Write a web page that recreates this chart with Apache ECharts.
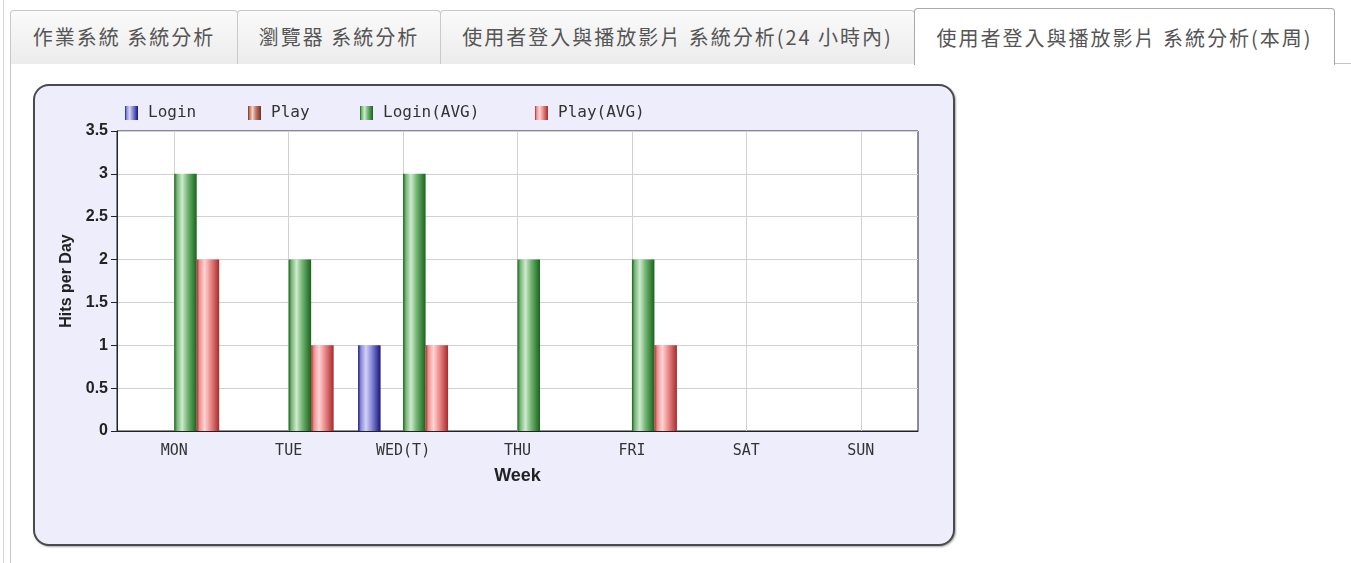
<!DOCTYPE html>
<html>
<head>
<meta charset="utf-8">
<script src="https://cdn.jsdelivr.net/npm/echarts@6/dist/echarts.min.js"></script>
<style>
  html, body { margin: 0; padding: 0; background: #fff; width: 1351px; height: 563px; overflow: hidden; }
  .frame-line { position: absolute; left: 3px; top: 0; width: 1px; height: 563px; background: #d6d6d6; }
  .content { position: absolute; left: 10px; top: 63px; width: 1341px; height: 500px; border-left: 1px solid #c4c4c4; border-top: 1px solid #c4c4c4; box-sizing: border-box; }
  .tab { position: absolute; box-sizing: border-box; border: 1px solid #c9c9c9; border-bottom: none; border-radius: 4px 4px 0 0;
         background: linear-gradient(#fafafa, #ececec); color: #555; font-family: "Noto Sans CJK TC", sans-serif; font-size: 20px;
         letter-spacing: 2px; text-align: center; line-height: 52px; white-space: nowrap; }
  .tab.active { background: #fff; border-color: #aaa; z-index: 2; }
  .panel { position: absolute; left: 33px; top: 84px; width: 922px; height: 462px; box-sizing: border-box; border: 2px solid #4a4a4a;
           border-radius: 16px; background: #ededfc; box-shadow: 1px 1px 2px rgba(0,0,0,0.35); }
  #chart { position: absolute; left: 0; top: 0; width: 1351px; height: 563px; z-index: 3; }
</style>
</head>
<body>
<div class="frame-line"></div>
<div class="content"></div>
<div class="tab" style="left:10px; top:10px; width:228px; height:54px;">作業系統 系統分析</div>
<div class="tab" style="left:237px; top:10px; width:204px; height:54px;">瀏覽器 系統分析</div>
<div class="tab" style="left:440px; top:10px; width:475px; height:54px;">使用者登入與播放影片 系統分析(24 小時內)</div>
<div class="tab active" style="left:914px; top:8px; width:421px; height:57px; line-height:58px;">使用者登入與播放影片 系統分析(本周)</div>
<div class="panel"></div>
<div id="chart"></div>
<script>
// Weekly hits: logins and video plays, with their averages
const days = ['MON', 'TUE', 'WED(T)', 'THU', 'FRI', 'SAT', 'SUN'];
const seriesNames = ['Login', 'Play', 'Login(AVG)', 'Play(AVG)'];
const login    = [0, 0, 1, 0, 0, 0, 0];
const play     = [0, 0, 0, 0, 0, 0, 0];
const loginAvg = [3, 2, 3, 2, 2, 0, 0];
const playAvg  = [2, 1, 1, 0, 1, 0, 0];
const yTicks = { min: 0, max: 3.5, interval: 0.5 };

// cylinder-like horizontal shading for each bar colour
function shade(dark, light, mid) {
  return new echarts.graphic.LinearGradient(0, 0, 1, 0, [
    { offset: 0, color: dark },
    { offset: 0.12, color: mid },
    { offset: 0.35, color: light },
    { offset: 0.6, color: mid },
    { offset: 1, color: dark }
  ]);
}
const palette = [
  shade('#14147e', '#d2d2f6', '#8a8ad8'),
  shade('#7a2e1e', '#f2d6cc', '#c07a66'),
  shade('#15641a', '#cfeacf', '#74b474'),
  shade('#a82a2a', '#ffd4d4', '#ec8e8e')
];
const values = [login, play, loginAvg, playAvg];

const mono = '"DejaVu Sans Mono", monospace';
const sans = '"Liberation Sans", Arial, sans-serif';
const legendLeft = [125, 248, 360, 535];

const chart = echarts.init(document.getElementById('chart'), null, { renderer: 'canvas' });
chart.setOption({
  animation: false,
  backgroundColor: 'transparent',
  legend: seriesNames.map((n, i) => ({
    data: [n], left: legendLeft[i], top: 105, padding: 0,
    itemWidth: 13, itemHeight: 14, icon: 'rect',
    textStyle: { fontFamily: mono, fontSize: 16, color: '#333', padding: [0, 0, 0, 5] }
  })),
  grid: { left: 117, top: 131, width: 801, height: 300, show: true, backgroundColor: '#fff', borderColor: '#222', borderWidth: 1 },
  xAxis: {
    type: 'category', data: days,
    name: 'Week', nameLocation: 'middle', nameGap: 36,
    nameTextStyle: { fontFamily: sans, fontWeight: 'bold', fontSize: 18, color: '#222' },
    axisLine: { lineStyle: { color: '#222' } },
    axisTick: { alignWithLabel: true, length: 5, lineStyle: { color: '#222' } },
    axisLabel: { fontFamily: mono, fontSize: 15, color: '#333', margin: 13 },
    splitLine: { show: true, alignWithLabel: true, lineStyle: { color: '#d2d2d2' } }
  },
  yAxis: {
    type: 'value', min: yTicks.min, max: yTicks.max, interval: yTicks.interval,
    name: 'Hits per Day', nameLocation: 'middle', nameGap: 41, nameRotate: 90,
    nameTextStyle: { fontFamily: sans, fontWeight: 'bold', fontSize: 16, color: '#222' },
    axisLine: { show: true, lineStyle: { color: '#222' } },
    axisTick: { show: true, length: 6, lineStyle: { color: '#222' } },
    axisLabel: { fontFamily: sans, fontWeight: 'bold', fontSize: 16, color: '#222', margin: 9 },
    splitLine: { lineStyle: { color: '#d2d2d2' } }
  },
  series: seriesNames.map((n, i) => ({
    name: n, type: 'bar', data: values[i],
    barWidth: 22.5, barGap: '0%',
    itemStyle: { color: palette[i] }
  }))
});
</script>
</body>
</html>
